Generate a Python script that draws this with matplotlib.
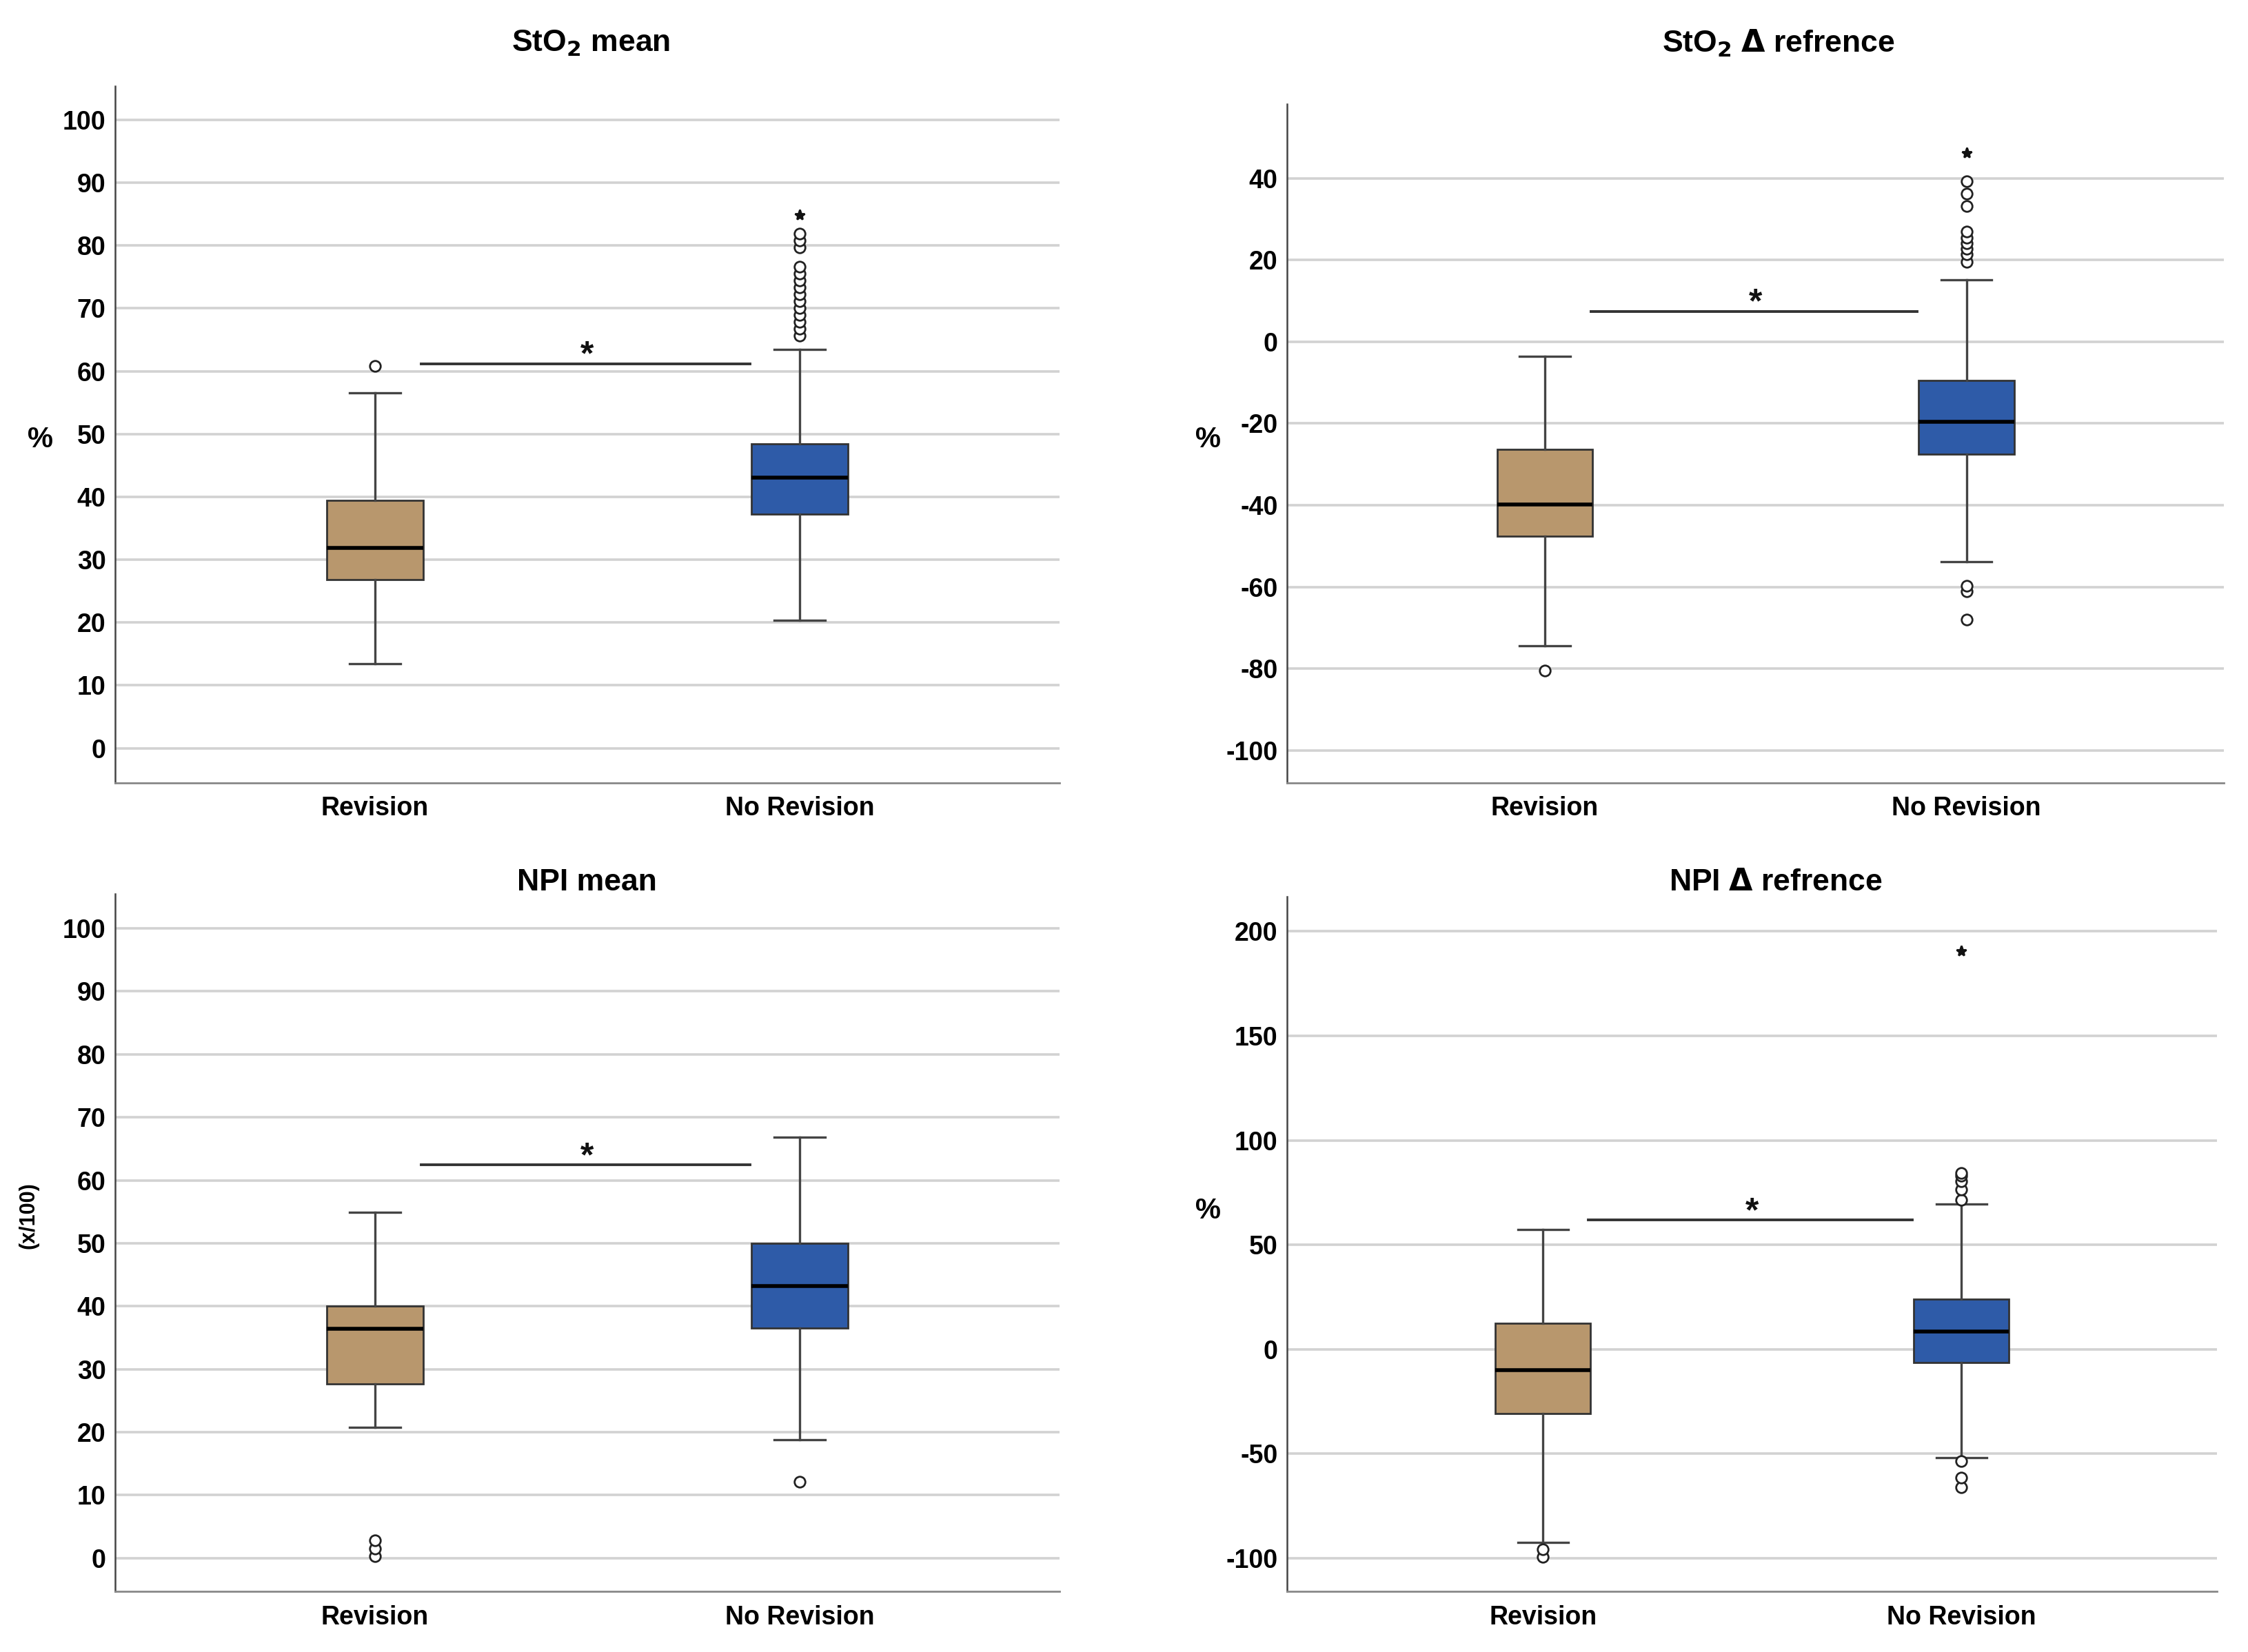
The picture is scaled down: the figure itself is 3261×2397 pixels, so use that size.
import matplotlib
matplotlib.use("Agg")
import matplotlib.pyplot as plt

plt.rcParams['font.family'] = ['Liberation Sans Narrow', 'Liberation Sans', 'DejaVu Sans']
plt.rcParams['font.weight'] = 'bold'
plt.rcParams['axes.unicode_minus'] = False

categories = ["Revision", "No Revision"]
tan = "#B8976D"
blue = "#2E5BA8"

# Panel 1: StO2 mean
p1_q1 = [26.8, 37.2]; p1_med = [31.9, 43.1]; p1_q3 = [39.4, 48.4]
p1_lo = [13.5, 20.4]; p1_hi = [56.6, 63.5]
p1_out = [[60.8], [65.6, 66.7, 67.8, 68.9, 70.0, 71.1, 72.2, 73.3, 74.4, 75.5, 76.6, 79.7, 80.8, 81.9]]
p1_ext = [[], [84.9]]

# Panel 2: StO2 delta reference
p2_q1 = [-47.6, -27.5]; p2_med = [-39.8, -19.6]; p2_q3 = [-26.4, -9.5]
p2_lo = [-74.4, -53.9]; p2_hi = [-3.5, 15.2]
p2_out = [[-80.4], [-68.0, -61.1, -59.8, 19.5, 21.3, 22.7, 24.1, 25.5, 26.9, 33.1, 36.2, 39.3]]
p2_ext = [[], [46.2]]

# Panel 3: NPI mean
p3_q1 = [27.7, 36.5]; p3_med = [36.4, 43.2]; p3_q3 = [40.0, 50.0]
p3_lo = [20.8, 18.8]; p3_hi = [54.9, 66.8]
p3_out = [[0.3, 1.5, 2.8], [12.1]]
p3_ext = [[], []]

# Panel 4: NPI delta reference
p4_q1 = [-30.6, -6.2]; p4_med = [-10.0, 8.5]; p4_q3 = [12.3, 24.1]
p4_lo = [-92.3, -52.0]; p4_hi = [57.2, 69.5]
p4_out = [[-99.5, -95.6], [-66.2, -61.4, -53.5, 71.5, 76.5, 80.5, 83.0, 84.5]]
p4_ext = [[], [190.6]]

titles = [r"StO$_\mathbf{2}$ mean", r"StO$_\mathbf{2}$ $\mathbf{\Delta}$ refrence", "NPI mean", r"NPI $\mathbf{\Delta}$ refrence"]
ylabels = ["%", "%", "(x/100)", "%"]
yticks = [list(range(0, 101, 10)), list(range(-100, 41, 20)), list(range(0, 101, 10)), list(range(-100, 201, 50))]
ylims = [(-5.5, 105.3), (-107.9, 58.2), (-5.3, 105.5), (-115.9, 216.6)]
sig_y = [61.2, 7.4, 62.5, 62.0]

panels = [
    (p1_q1, p1_med, p1_q3, p1_lo, p1_hi, p1_out, p1_ext),
    (p2_q1, p2_med, p2_q3, p2_lo, p2_hi, p2_out, p2_ext),
    (p3_q1, p3_med, p3_q3, p3_lo, p3_hi, p3_out, p3_ext),
    (p4_q1, p4_med, p4_q3, p4_lo, p4_hi, p4_out, p4_ext),
]

W, H = 1560.0, 1146.0
def rect(l, r, t, b):
    return [l / W, 1 - b / H, (r - l) / W, (b - t) / H]

axes_rects = [rect(80, 735, 60, 543), rect(893, 1543, 72, 543),
              rect(80, 735, 620, 1104), rect(893, 1538, 622, 1104)]
title_pos = [(410, 30), (1234, 30), (407, 612), (1232, 612)]
ylabel_pos = [(28, 305), (838, 305), (20, 843), (838, 840)]

fig = plt.figure(figsize=(16.31, 11.985), dpi=200)

for i, (q1, med, q3, lo, hi, out, ext) in enumerate(panels):
    ax = fig.add_axes(axes_rects[i])
    stats = []
    for j in range(2):
        stats.append(dict(q1=q1[j], med=med[j], q3=q3[j], whislo=lo[j], whishi=hi[j],
                          fliers=out[j], label=categories[j]))
    bp = ax.bxp(stats, positions=[0, 1], widths=0.227, patch_artist=True,
                showfliers=True, capwidths=0.12,
                boxprops=dict(edgecolor='#333333', linewidth=1.0),
                medianprops=dict(color='black', linewidth=2.0),
                whiskerprops=dict(color='#444444', linewidth=1.2),
                capprops=dict(color='#444444', linewidth=1.2),
                flierprops=dict(marker='o', markerfacecolor='white', markeredgecolor='#222222',
                                markersize=5.6, markeredgewidth=1.0, linestyle='none'))
    for patch, c in zip(bp['boxes'], [tan, blue]):
        patch.set_facecolor(c)
    for j in range(2):
        if ext[j]:
            ax.plot([j] * len(ext[j]), ext[j], linestyle='none', marker='*', color='#111111',
                    markersize=5.5, zorder=4)
    ax.set_xlim(-0.611, 1.611)
    ax.set_ylim(*ylims[i])
    ax.set_yticks(yticks[i])
    ax.yaxis.grid(True, color='#d2d2d2', linewidth=1.3, zorder=0)
    ax.set_axisbelow(True)
    ax.tick_params(axis='both', length=0, labelsize=13.5)
    ax.tick_params(axis='y', pad=5)
    ax.tick_params(axis='x', pad=7)
    for lab in ax.get_xticklabels() + ax.get_yticklabels():
        lab.set_fontweight('bold')
    ax.spines['top'].set_visible(False)
    ax.spines['right'].set_visible(False)
    ax.spines['left'].set_color('#444444')
    ax.spines['left'].set_linewidth(0.9)
    ax.spines['bottom'].set_color('#888888')
    ax.spines['bottom'].set_linewidth(1.0)
    # significance bar
    ax.plot([0.109, 0.882], [sig_y[i], sig_y[i]], color='#333333', linewidth=1.4)
    yr = ylims[i][1] - ylims[i][0]
    ax.text(0.5, sig_y[i] - 0.012 * yr, "*", ha='center', va='bottom', fontsize=18,
            fontweight='bold', color='#111111')
    tx, ty = title_pos[i]
    fig.text(tx / W, 1 - ty / H, titles[i], ha='center', va='center', fontsize=16, fontweight='bold')
    lx, ly = ylabel_pos[i]
    fig.text(lx / W, 1 - ly / H, ylabels[i], ha='center', va='center', fontsize=15 if i != 2 else 11,
             fontweight='bold', rotation=90 if i == 2 else 0)

fig.savefig("out.png", dpi=200, facecolor='white')
